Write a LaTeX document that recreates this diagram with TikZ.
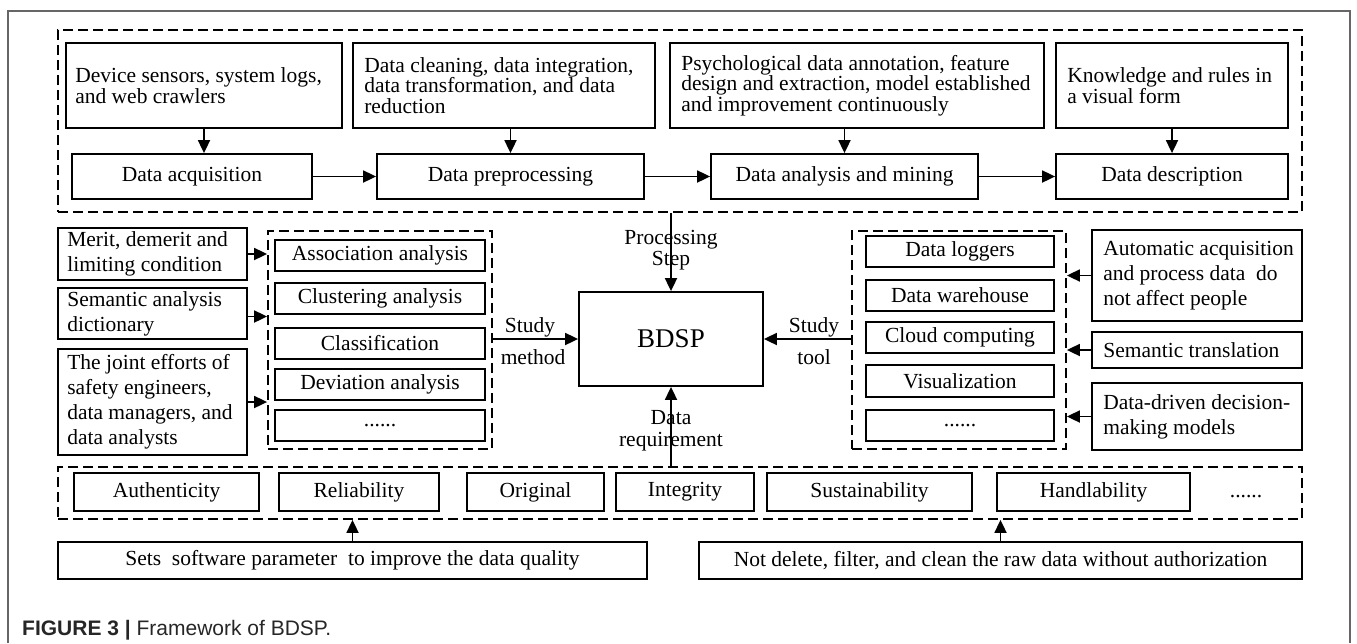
\documentclass[tikz,border=0pt]{standalone}
\usepackage{fontspec}
\setmainfont{Liberation Serif}
\newfontfamily\capfont{Liberation Sans}
\usetikzlibrary{arrows.meta}
\newcommand\fsA{\fontsize{21.5}{20.5}\selectfont}
\newcommand\fsB{\fontsize{21.5}{25}\selectfont}
\newcommand\mybx[7]{%
 \pgfmathsetmacro\myW{#4-#2}\pgfmathsetmacro\myH{#5-#3}%
 \pgfmathsetmacro\myX{(#2+#4)/2}\pgfmathsetmacro\myY{(#3+#5)/2}%
 \node[#6,minimum width=\myW pt,minimum height=\myH pt] (#1) at (\myX,\myY) {#7};}
\newcommand\mylbx[8]{%
 \mybx{#1}{#2}{#3}{#4}{#5}{box}{}%
 \node[lt,#7,anchor=west] (#1t) at ([xshift=#6pt]#1.west) {#8};}
\tikzset{
 box/.style={draw, line width=1.8pt, inner sep=0pt, font=\fsA, align=center},
 dbox/.style={draw, line width=1.8pt, inner sep=0pt, dash pattern=on 10pt off 5pt},
 lt/.style={inner sep=0pt, align=left},
 lbl/.style={inner sep=0pt, font=\fsA, align=center},
 arr/.style={-{Triangle[length=13pt,width=12pt]}, line width=1.8pt},
 frame/.style={draw=black!60, line width=1.6pt}
}
\begin{document}
\begin{tikzpicture}[x=1pt,y=-1pt]
\useasboundingbox (0,0) rectangle (1357,643);
\draw[frame] (8,643) -- (8,11) -- (1350,11) -- (1350,643);

% top processing steps
\mybx{T}{58}{30}{1302}{212}{dbox}{}
\mylbx{A1}{66}{43}{342}{128}{10}{font=\fsA}{Device sensors, system logs,\\and web crawlers}
\mylbx{A2}{353}{43}{655}{128}{12}{font=\fsA}{Data cleaning, data integration,\\data transformation, and data\\reduction}
\mylbx{A3}{670}{43}{1044}{128}{12}{font=\fsA}{Psychological data annotation, feature\\design and extraction, model established\\and improvement continuously}
\mylbx{A4}{1056}{43}{1288}{128}{12}{font=\fsA}{Knowledge and rules in\\a visual form}
\mybx{B1}{72}{154}{312}{199}{box}{Data acquisition}
\mybx{B2}{377}{154}{644}{199}{box}{Data preprocessing}
\mybx{B3}{711}{154}{978}{199}{box}{Data analysis and mining}
\mybx{B4}{1056}{154}{1288}{199}{box}{Data description}
\draw[arr] (A1.south) -- (A1.south |- B1.north);
\draw[arr] (B2.north |- A2.south) -- (B2.north);
\draw[arr] (B3.north |- A3.south) -- (B3.north);
\draw[arr] (A4.south) -- (B4.north);
\draw[arr] (B1) -- (B2);
\draw[arr] (B2) -- (B3);
\draw[arr] (B3) -- (B4);

% centre
\mybx{C}{579}{292}{763}{386}{box,font=\fontsize{27}{27}\selectfont}{BDSP}
\draw[arr] (T.south -| C.north) -- (C.north);
\node[lbl] (ps) at (671,250) {Processing\\Step};

% left: study method
\mylbx{L1}{58}{228}{247}{280}{10}{font=\fsB}{Merit, demerit and\\limiting condition}
\mylbx{L2}{58}{288}{247}{339}{10}{font=\fsB}{Semantic analysis\\dictionary}
\mylbx{L3}{58}{349}{247}{455}{10}{font=\fsB}{The joint efforts of\\safety engineers,\\data managers, and\\data analysts}
\mybx{LD}{268}{231}{492}{449}{dbox}{}
\mybx{M1}{275}{240}{485}{271}{box}{Association analysis}
\mybx{M2}{275}{283}{485}{314}{box}{Clustering analysis}
\mybx{M3}{275}{328}{485}{359}{box}{Classification}
\mybx{M4}{275}{369}{485}{400}{box}{Deviation analysis}
\mybx{M5}{275}{410}{485}{441}{box}{......}
\draw[arr] (L1.east) -- (L1.east -| LD.west);
\draw[arr] ([yshift=-3pt]L2.east) -- ([yshift=-3pt]L2.east -| LD.west);
\draw[arr] (L3.east) -- (L3.east -| LD.west);
\draw[arr] (LD.east |- C.west) -- (C.west);
\node[lbl,anchor=base] (sm1) at (530,332) {Study};
\node[lbl,anchor=base] (sm2) at (533,364) {method};

% right: study tool
\mybx{RD}{852}{231}{1066}{449}{dbox}{}
\mybx{N1}{866}{236}{1054}{267}{box}{Data loggers}
\mybx{N2}{866}{280}{1054}{311}{box}{Data warehouse}
\mybx{N3}{866}{322}{1054}{353}{box}{Cloud computing}
\mybx{N4}{866}{365}{1054}{397}{box}{Visualization}
\mybx{N5}{866}{410}{1054}{441}{box}{......}
\mylbx{R1}{1092}{230}{1302}{321}{12}{font=\fsB}{Automatic acquisition\\and process data\ \ do\\not affect people}
\mylbx{R2}{1092}{332}{1302}{368}{12}{font=\fsB}{Semantic translation}
\mylbx{R3}{1092}{383}{1302}{450}{12}{font=\fsB}{Data-driven decision-\\making models}
\draw[arr] (R1.west) -- (R1.west -| RD.east);
\draw[arr] (R2.west) -- (R2.west -| RD.east);
\draw[arr] (R3.west) -- (R3.west -| RD.east);
\draw[arr] (RD.west |- C.east) -- (C.east);
\node[lbl,anchor=base] (st1) at (814,332) {Study};
\node[lbl,anchor=base] (st2) at (814,364) {tool};

% bottom: data requirement
\mybx{BD}{58}{467}{1302}{519}{dbox}{}
\mybx{Q1}{74}{473}{259}{511}{box}{Authenticity}
\mybx{Q2}{279}{473}{439}{511}{box}{Reliability}
\mybx{Q3}{467}{473}{604}{511}{box}{Original}
\mybx{Q4}{616}{473}{754}{511}{box}{Integrity}
\mybx{Q5}{767}{473}{972}{511}{box}{Sustainability}
\mybx{Q6}{997}{473}{1190}{511}{box}{Handlability}
\node[lbl,anchor=base] (Q7) at (1246,497) {......};
\draw[arr] (BD.north -| C.south) -- (C.south);
\node[lbl,font=\fontsize{21.5}{22}\selectfont] (dr) at (671,431) {Data\\requirement};
\mybx{S1}{58}{542}{647}{579}{box}{Sets\ \ software parameter\ \ to improve the data quality}
\mybx{S2}{699}{542}{1302}{579}{box}{Not delete, filter, and clean the raw data without authorization}
\draw[arr] (S1.north) -- (S1.north |- BD.south);
\draw[arr] (S2.north) -- (S2.north |- BD.south);

% caption
\node[anchor=base west, inner sep=0pt, font=\capfont\fontsize{21}{21}\selectfont, text=black!85] (cap) at (22,635) {\textbf{FIGURE 3 |} Framework of BDSP.};
\end{tikzpicture}
\end{document}
